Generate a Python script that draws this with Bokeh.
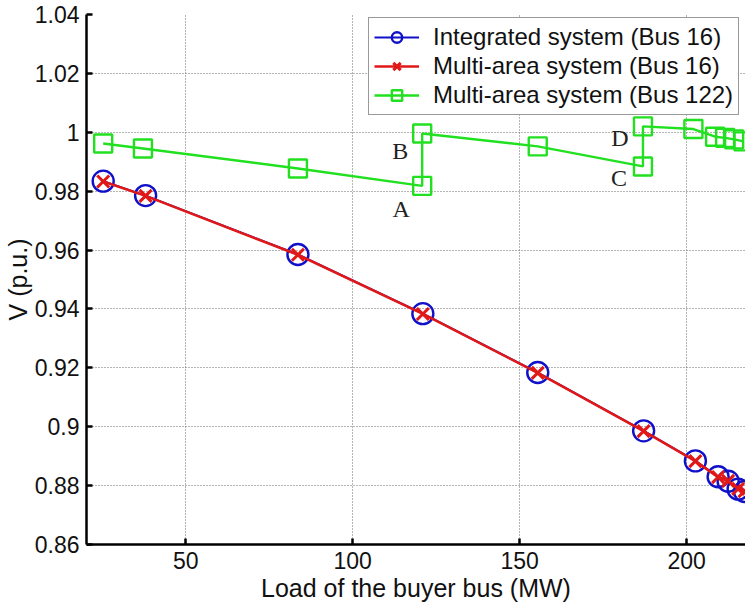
from bokeh.plotting import figure
from bokeh.models import Legend, LegendItem, FixedTicker, Range1d, ColumnDataSource, LabelSet
from bokeh.embed import file_html
from bokeh.resources import INLINE

# --- data ---
load_bus16 = [25.3, 38.0, 83.6, 121.0, 155.4, 187.1, 202.6, 209.4, 212.4, 215.4, 217.3]
v_integrated_bus16 = [0.9834, 0.9785, 0.9585, 0.9384, 0.9184, 0.8986, 0.8884, 0.8830, 0.8815, 0.8788, 0.8780]
v_multiarea_bus16 = [0.9833, 0.9784, 0.9584, 0.9383, 0.9183, 0.8985, 0.8883, 0.8829, 0.8816, 0.8789, 0.8781]

load_bus122 = [25.3, 37.2, 83.6, 120.8, 120.8, 155.4, 186.9, 186.9, 202.0, 208.5, 211.5, 214.2, 217.0]
v_multiarea_bus122 = [0.9962, 0.9945, 0.9877, 0.9818, 0.9996, 0.9952, 0.9884, 1.0020, 1.0011, 0.9985, 0.9981, 0.9976, 0.9969]

point_labels = ["A", "B", "C", "D"]
point_label_index = [3, 4, 6, 7]

x_ticks = [50, 100, 150, 200]
y_ticks = [0.86, 0.88, 0.90, 0.92, 0.94, 0.96, 0.98, 1.00, 1.02, 1.04]
y_tick_labels = ["0.86", "0.88", "0.9", "0.92", "0.94", "0.96", "0.98", "1", "1.02", "1.04"]

FONT = "Liberation Sans"

p = figure(width=745, height=604, output_backend="svg", toolbar_location=None,
           x_range=Range1d(20.3, 217.6), y_range=Range1d(0.86, 1.04),
           min_border_left=83, min_border_right=0, min_border_top=14, min_border_bottom=60)
p.outline_line_color = None
p.background_fill_color = "white"
p.border_fill_color = "white"

for ax in (p.xaxis[0], p.yaxis[0]):
    ax.axis_line_width = 2.5
    ax.axis_line_color = "black"
    ax.major_tick_line_width = 2.5
    ax.major_tick_line_color = "black"
    ax.major_tick_in = 6
    ax.major_tick_out = 0
    ax.minor_tick_line_color = None
    ax.major_label_text_font = FONT
    ax.major_label_text_font_size = "23px"
    ax.major_label_text_color = "#111111"
    ax.axis_label_text_font = FONT
    ax.axis_label_text_font_size = "25px"
    ax.axis_label_text_font_style = "normal"
    ax.axis_label_text_color = "#111111"
    ax.major_label_standoff = 7

p.xaxis.ticker = FixedTicker(ticks=x_ticks)
p.yaxis.ticker = FixedTicker(ticks=y_ticks)
p.yaxis.major_label_overrides = {t: l for t, l in zip(y_ticks, y_tick_labels)}
p.xaxis.axis_label = "Load of the buyer bus (MW)"
p.yaxis.axis_label = "V (p.u.)"
p.xaxis.axis_label_standoff = 2
p.yaxis.axis_label_standoff = 0

for g in (p.xgrid[0], p.ygrid[0]):
    g.grid_line_color = "#6a6a6a"
    g.grid_line_dash = "1 2"
    g.grid_line_width = 1
p.xgrid.ticker = FixedTicker(ticks=x_ticks)
p.ygrid.ticker = FixedTicker(ticks=y_ticks)

BLUE = "#1010c8"
RED = "#e01818"
GREEN = "#20e020"

src16 = ColumnDataSource(dict(x=load_bus16, yi=v_integrated_bus16, ym=v_multiarea_bus16))
src122 = ColumnDataSource(dict(x=load_bus122, y=v_multiarea_bus122))

bl = p.line("x", "yi", source=src16, line_color=BLUE, line_width=2)
bc = p.scatter("x", "yi", source=src16, marker="circle", size=21, fill_color=None,
               line_color=BLUE, line_width=2.4)
rl = p.line("x", "ym", source=src16, line_color=RED, line_width=2.6)
rx = p.scatter("x", "ym", source=src16, marker="x", size=17, line_color=RED, line_width=3)

gl = p.line("x", "y", source=src122, line_color=GREEN, line_width=2.4)
gs = p.scatter("x", "y", source=src122, marker="square", size=18, fill_color=None,
               line_color=GREEN, line_width=2.4)

# point labels A-D placed next to their green data points
lab_x = [load_bus122[i] for i in point_label_index]
lab_y = [v_multiarea_bus122[i] for i in point_label_index]
offs_x = [-21, -22, -24, -23]
offs_y = [-23, -18, -12, -12]
lsrc = ColumnDataSource(dict(x=lab_x, y=lab_y, t=point_labels, ox=offs_x, oy=offs_y))
p.add_layout(LabelSet(x="x", y="y", text="t", source=lsrc, x_offset="ox", y_offset="oy",
                      text_font="Liberation Serif", text_font_size="24px", text_color="#222222",
                      text_align="center", text_baseline="middle"))

legend = Legend(items=[
    LegendItem(label="Integrated system (Bus 16)", renderers=[bl, bc]),
    LegendItem(label="Multi-area system (Bus 16)", renderers=[rl, rx]),
    LegendItem(label="Multi-area system (Bus 122)", renderers=[gl, gs]),
], location=(282, 429))
legend.label_text_font = FONT
legend.label_text_font_size = "24px"
legend.label_text_color = "#111111"
legend.glyph_width = 45
legend.glyph_height = 26
legend.label_height = 26
legend.label_standoff = 14
legend.spacing = 1
legend.padding = 5
legend.border_line_color = "#333333"
legend.border_line_width = 1
legend.background_fill_alpha = 1
p.add_layout(legend, "center")

open("out.html", "w").write(file_html(p, INLINE))
